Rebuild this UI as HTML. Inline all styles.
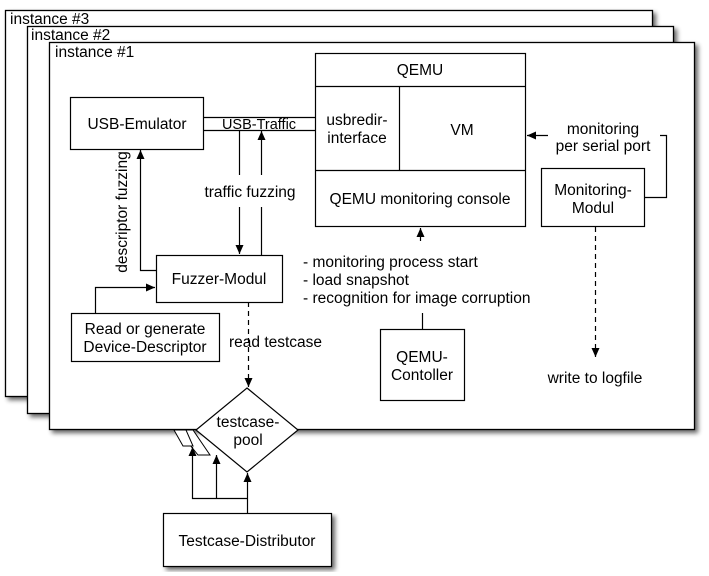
<!DOCTYPE html>
<html><head><meta charset="utf-8"><style>
html,body{margin:0;padding:0;background:#fff;}
svg{display:block;font-family:"Liberation Sans",Arial,sans-serif;font-size:15.5px;}
</style></head><body>
<svg width="709" height="576" viewBox="0 0 709 576" xmlns="http://www.w3.org/2000/svg">
<defs>
<filter id="sh" x="-5%" y="-5%" width="115%" height="115%">
<feGaussianBlur in="SourceAlpha" stdDeviation="2.5"/><feOffset dx="3" dy="3"/>
<feComponentTransfer><feFuncA type="linear" slope="0.6"/></feComponentTransfer>
<feMerge><feMergeNode/><feMergeNode in="SourceGraphic"/></feMerge></filter>
<marker id="a" markerWidth="10" markerHeight="10" refX="9" refY="5" orient="auto" markerUnits="userSpaceOnUse">
<path d="M0,1 L9,5 L0,9 z" fill="#000"/></marker>
</defs>
<g stroke="#000" stroke-width="1.3" fill="#fff">
<rect x="5.5" y="10.5" width="647" height="386" filter="url(#sh)"/>
<rect x="27.5" y="26.5" width="646" height="387" filter="url(#sh)"/>
<rect x="49.5" y="42.5" width="645" height="387" filter="url(#sh)"/>
</g>
<g fill="#000">
<text x="10" y="24">instance #3</text>
<text x="31" y="40">instance #2</text>
<text x="55" y="57">instance #1</text>
</g>
<g stroke="#000" stroke-width="1.2" fill="none">
<rect x="315.5" y="53.5" width="210" height="173" fill="#fff"/>
<line x1="315" y1="86.5" x2="526" y2="86.5"/>
<line x1="315" y1="170.5" x2="526" y2="170.5"/>
<line x1="399.5" y1="86" x2="399.5" y2="170"/>
<rect x="70.5" y="97.5" width="133" height="52" fill="#fff"/>
<line x1="203" y1="117.5" x2="315" y2="117.5"/>
<line x1="203" y1="130.5" x2="315" y2="130.5"/>
<rect x="541.5" y="168.5" width="103" height="58" fill="#fff"/>
<polyline points="644,197.5 666.5,197.5 666.5,135.5 660,135.5"/>
<line x1="548" y1="135.5" x2="527" y2="135.5" marker-end="url(#a)"/>
<line x1="239.5" y1="130" x2="239.5" y2="175"/>
<line x1="239.5" y1="207" x2="239.5" y2="254" marker-end="url(#a)"/>
<line x1="261.5" y1="255" x2="261.5" y2="207"/>
<line x1="261.5" y1="175" x2="261.5" y2="131" marker-end="url(#a)"/>
<rect x="156.5" y="255.5" width="126" height="47" fill="#fff"/>
<polyline points="156,270.5 140.5,270.5 140.5,150" marker-end="url(#a)"/>
<rect x="71.5" y="313.5" width="148" height="48" fill="#fff"/>
<polyline points="95.5,313 95.5,287.5 155,287.5" marker-end="url(#a)"/>
<line x1="420.5" y1="241" x2="420.5" y2="228" marker-end="url(#a)"/>
<rect x="380.5" y="329.5" width="84" height="71" fill="#fff"/>
<line x1="422.5" y1="329" x2="422.5" y2="313"/>
<line x1="595.5" y1="227" x2="595.5" y2="357" stroke-dasharray="5,4" marker-end="url(#a)"/>
<line x1="248.5" y1="302" x2="248.5" y2="387" stroke-dasharray="5,4" marker-end="url(#a)"/>
<polygon points="178,430 193,430 210,455 198,455" fill="#fff" stroke-width="1"/>
<polygon points="174,430 186,430 193,446 183,446" fill="#fff" stroke-width="1"/>
<polygon points="247,388 298,430 247,472 196,430" fill="#fff"/>
<rect x="163.5" y="513.5" width="168" height="53" fill="#fff" filter="url(#sh)"/>
<line x1="247.5" y1="513" x2="247.5" y2="473" marker-end="url(#a)"/>
<polyline points="247.5,498.5 192.5,498.5 192.5,447" marker-end="url(#a)"/>
<line x1="216.5" y1="498" x2="216.5" y2="455" marker-end="url(#a)"/>
</g>
<g fill="#000" text-anchor="middle">
<text x="420" y="75">QEMU</text>
<text x="357" y="125">usbredir-</text>
<text x="357" y="143">interface</text>
<text x="462" y="135">VM</text>
<text x="420" y="204">QEMU monitoring console</text>
<text x="137" y="129">USB-Emulator</text>
<text x="259" y="129" font-size="14.5">USB-Traffic</text>
<text x="250" y="197">traffic fuzzing</text>
<text x="219" y="284">Fuzzer-Modul</text>
<text x="145" y="334">Read or generate</text>
<text x="145" y="352">Device-Descriptor</text>
<text transform="translate(127,212) rotate(-90)">descriptor fuzzing</text>
<text x="603" y="134">monitoring</text>
<text x="603" y="151">per serial port</text>
<text x="593" y="195">Monitoring-</text>
<text x="593" y="213">Modul</text>
<text x="422" y="362">QEMU-</text>
<text x="422" y="380">Contoller</text>
<text x="595" y="383">write to logfile</text>
<text x="248" y="427">testcase-</text>
<text x="248" y="445">pool</text>
<text x="247" y="546">Testcase-Distributor</text>
<text x="229" y="347" text-anchor="start">read testcase</text>
<g text-anchor="start">
<text x="303" y="267">- monitoring process start</text>
<text x="303" y="285">- load snapshot</text>
<text x="303" y="303">- recognition for image corruption</text>
</g>
</g>
</svg>
</body></html>
